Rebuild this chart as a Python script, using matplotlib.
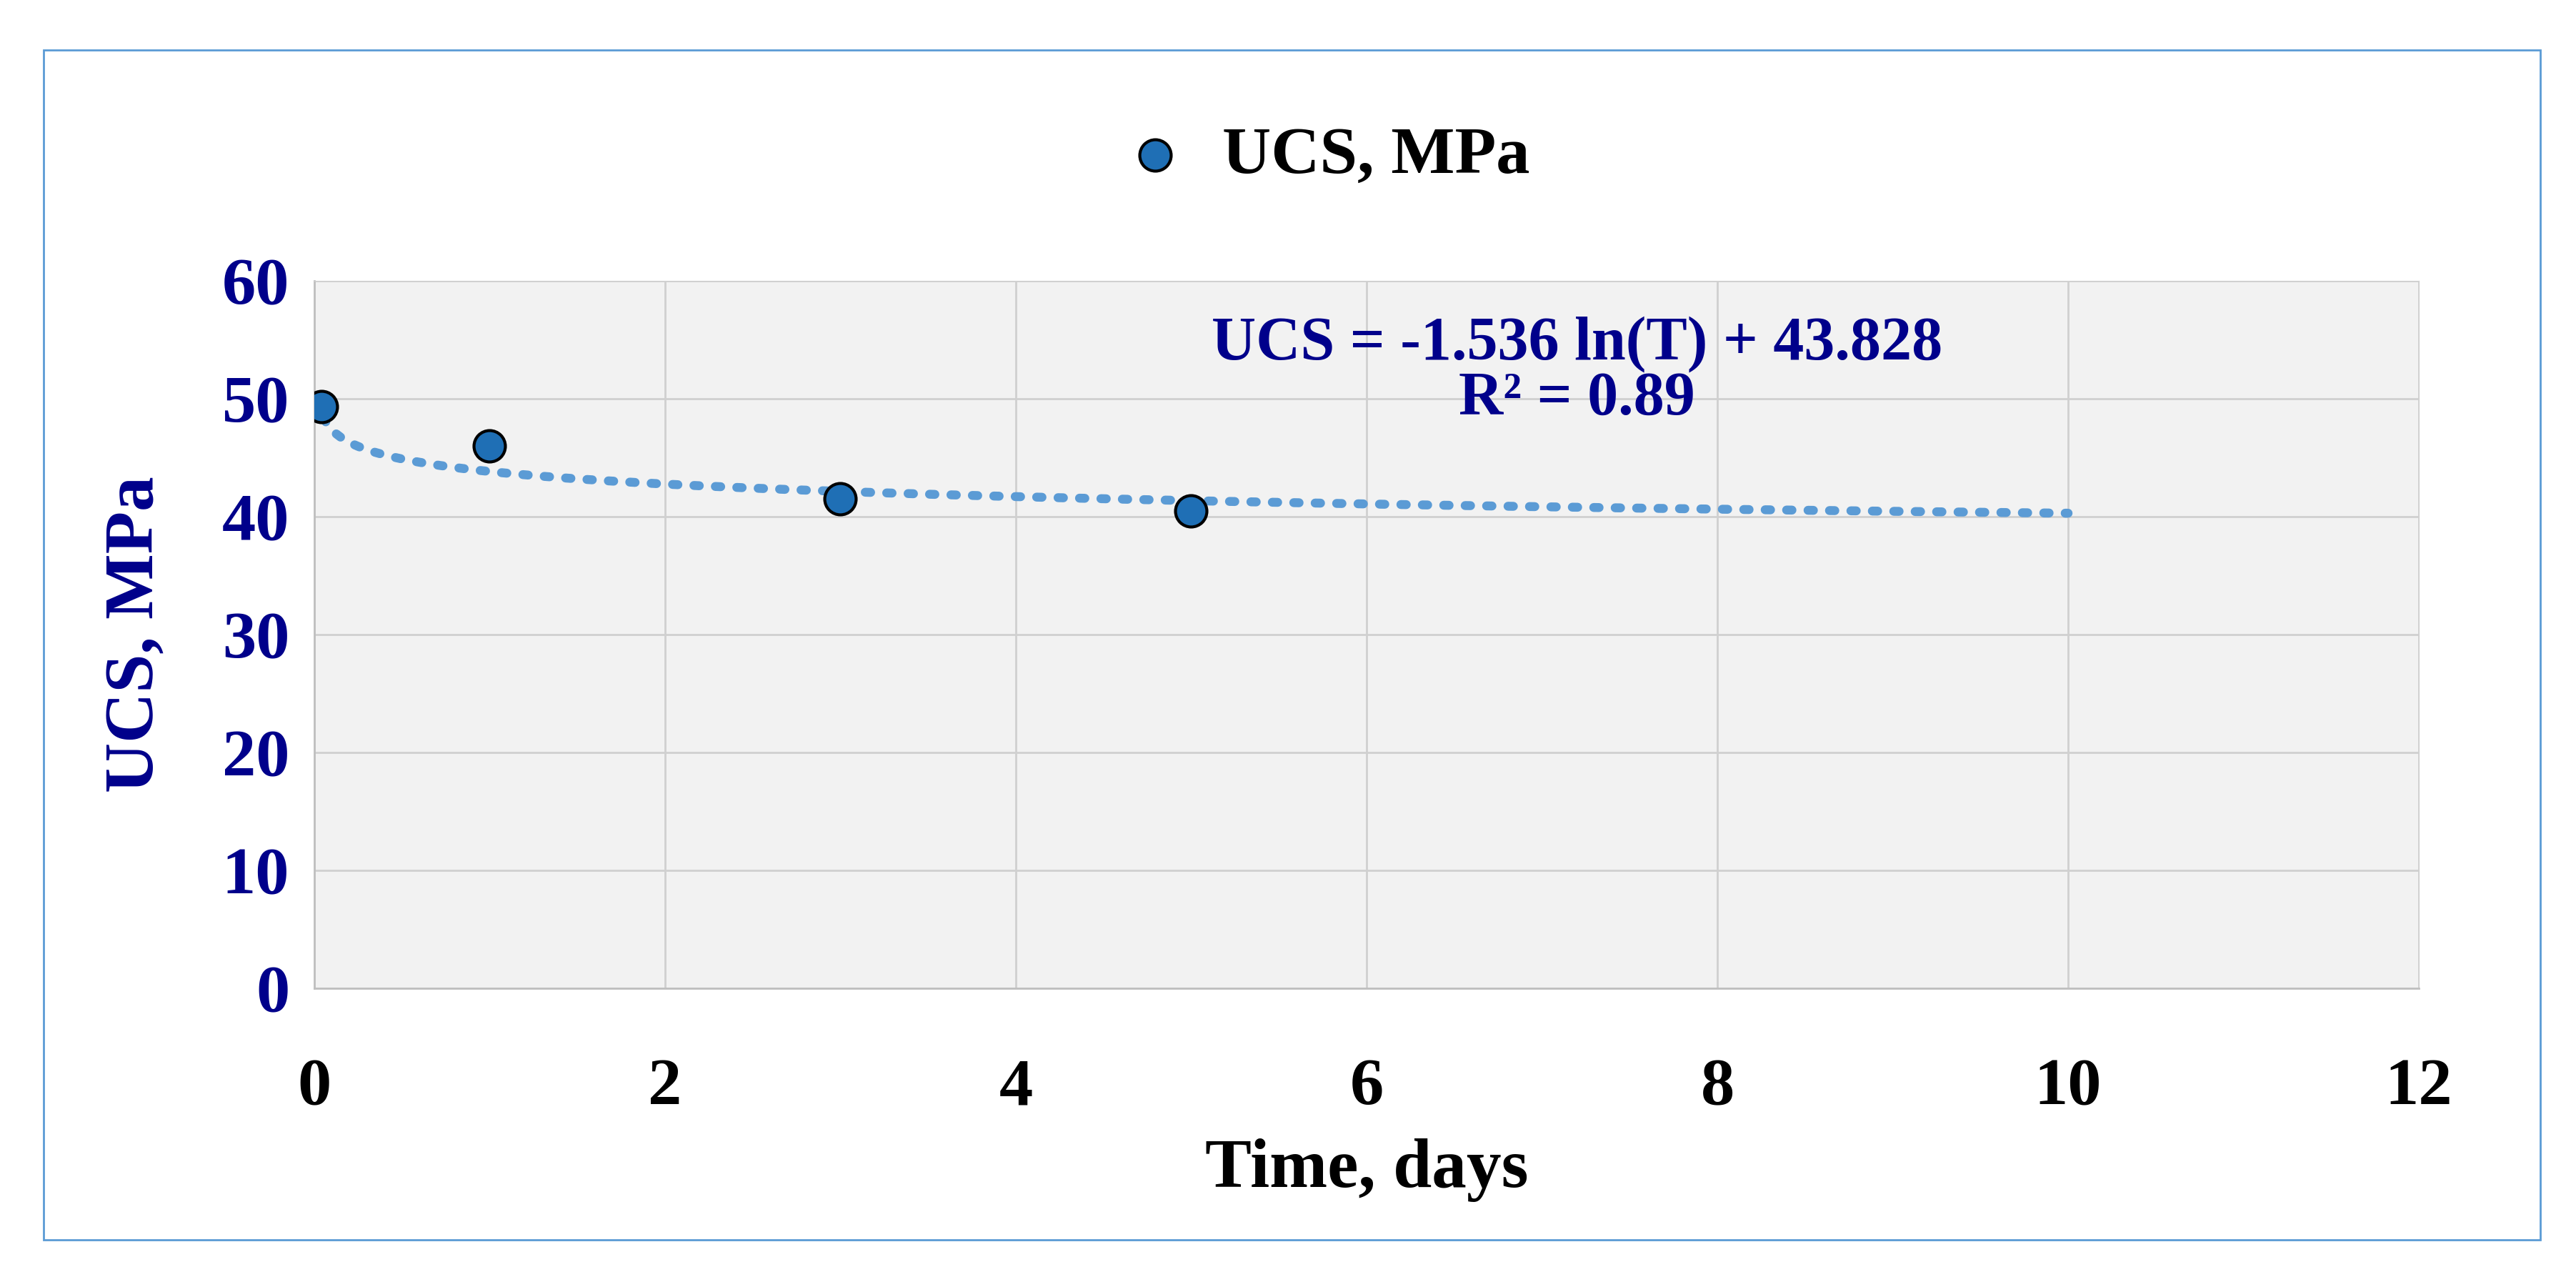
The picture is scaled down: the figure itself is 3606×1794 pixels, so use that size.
# UCS vs time with logarithmic trend line
import numpy as np
import matplotlib.pyplot as plt
from matplotlib.patches import Rectangle

time_days = [0.04, 1, 3, 5]
ucs_mpa = [49.3, 46.0, 41.5, 40.5]
fit_a, fit_b = -1.536, 43.828
x_ticks = [0, 2, 4, 6, 8, 10, 12]
y_ticks = [0, 10, 20, 30, 40, 50, 60]

plt.rcParams['font.family'] = ['Liberation Serif', 'DejaVu Serif']
plt.rcParams['font.weight'] = 'bold'
navy = '#00008B'

fig = plt.figure(figsize=(36.06, 17.94), dpi=100)
fig.patches.append(Rectangle((0.017, 0.033), 0.969, 0.928, transform=fig.transFigure,
                             fill=False, edgecolor='#5b9bd5', linewidth=2))
ax = fig.add_axes([0.122, 0.229, 0.817, 0.552])
ax.set_facecolor('#f2f2f2')

# trend line from fit equation
t = np.linspace(0.05, 10, 400)
ax.plot(t, fit_a * np.log(t) + fit_b, linestyle=(0, (0.6, 1.8)), color='#5b9bd5',
        linewidth=9, dash_capstyle='round', zorder=2)
ax.scatter(time_days, ucs_mpa, s=1000, color='#1f6fb5', edgecolors='black',
           linewidths=3, zorder=3, label='UCS, MPa')

ax.set_xlim(0, 12)
ax.set_ylim(0, 60)
ax.set_xticks(x_ticks)
ax.set_yticks(y_ticks)
ax.grid(color='#d0d0d0', linewidth=2)
ax.set_axisbelow(True)
for s in ['top', 'right']:
    ax.spines[s].set_color('#d0d0d0')
for s in ['left', 'bottom']:
    ax.spines[s].set_color('#bfbfbf')
ax.spines['left'].set_linewidth(2)
ax.spines['bottom'].set_linewidth(2)
ax.tick_params(length=0)
ax.tick_params(axis='x', labelsize=68, labelcolor='black', pad=70)
ax.tick_params(axis='y', labelsize=68, labelcolor=navy, pad=25)
ax.set_xlabel('Time, days', fontsize=70, fontweight='bold', labelpad=20)
ax.set_ylabel('UCS, MPa', fontsize=70, fontweight='bold', color=navy, labelpad=55)

ax.text(7.2, 54.6, 'UCS = -1.536 ln(T) + 43.828', ha='center', va='center',
        fontsize=62, fontweight='bold', color=navy)
ax.text(7.2, 49.9, 'R² = 0.89', ha='center', va='center',
        fontsize=62, fontweight='bold', color=navy)

fig.legend(loc='center', bbox_to_anchor=(0.508, 0.878), frameon=False,
           fontsize=68, handletextpad=0.0, markerscale=1.0)

fig.savefig('out.png', dpi=100)
